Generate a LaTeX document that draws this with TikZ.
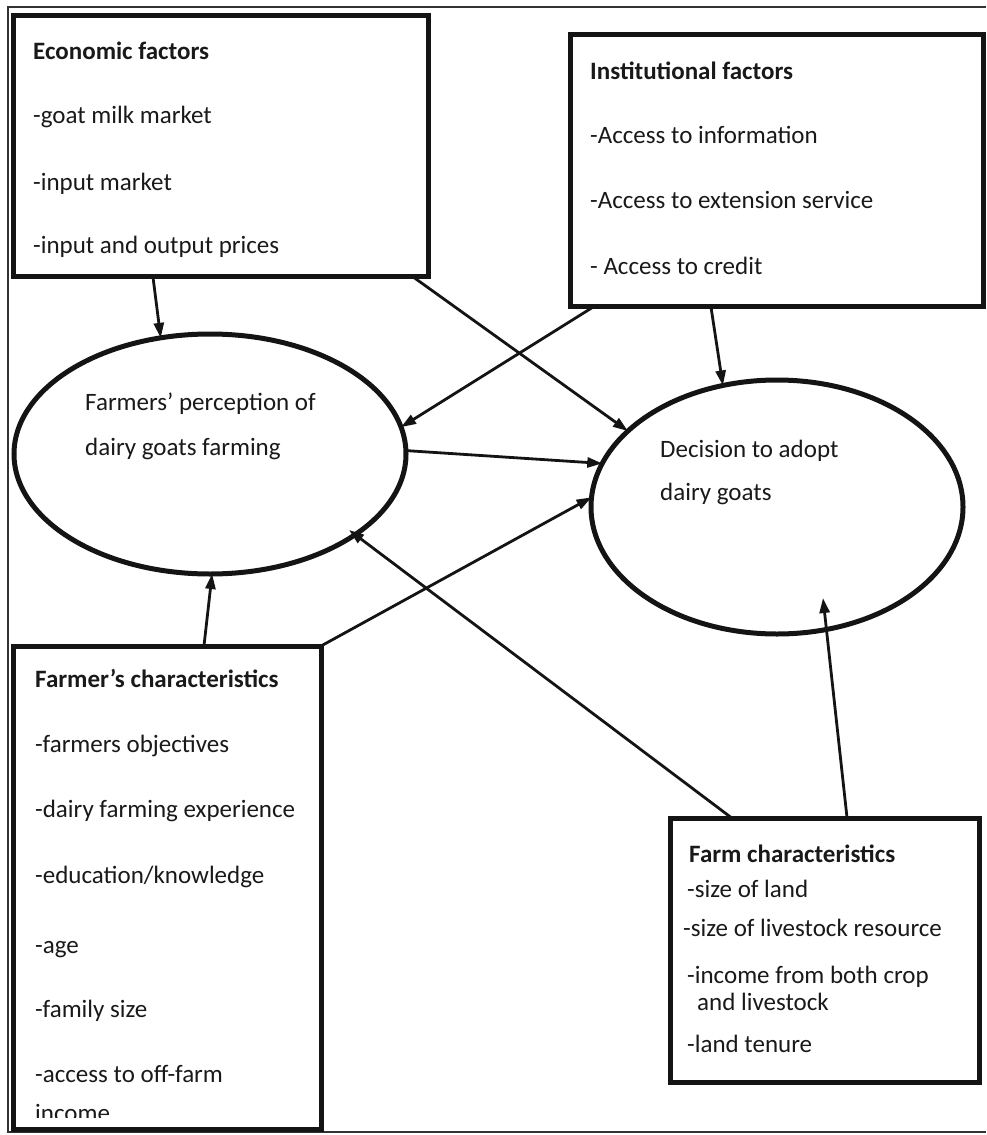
\documentclass[tikz,border=0pt]{standalone}
\usepackage{fontspec}
\setmainfont{Carlito}
\usetikzlibrary{arrows.meta,shapes.geometric,calc}
\begin{document}
\begin{tikzpicture}[x=1pt,y=-1pt,
  box/.style={draw=black!92,line width=5pt,rectangle,inner sep=0pt,outer sep=0pt},
  oval/.style={draw=black!92,line width=5pt,ellipse,inner sep=0pt,outer sep=0pt},
  txt/.style={anchor=base west,inner sep=0pt,font=\fontsize{25}{30}\selectfont,text=black!90},
  ttl/.style={txt,font=\fontsize{25}{30}\selectfont\bfseries},
  arr/.style={draw=black!92,line width=2.8pt,-{Triangle[length=15pt,width=10pt]}},
  frame/.style={draw=black!80,line width=2pt}]
\useasboundingbox (0,0) rectangle (986,1135);
% outer frame
\draw[frame] (986,7) -- (8,7) -- (8,1132) -- (986,1132);
% boxes
\node[box,minimum width=415pt,minimum height=261pt] (econ) at (220.5,145.5) {};
\node[box,minimum width=413pt,minimum height=272pt] (inst) at (776.5,170) {};
\node[box,minimum width=308pt,minimum height=483pt] (farmer) at (167,887.5) {};
\node[box,minimum width=309pt,minimum height=264pt] (farm) at (824.5,950) {};
% ellipses
\node[oval,minimum width=392pt,minimum height=240pt] (perc) at (210,454) {};
\node[oval,minimum width=372pt,minimum height=254pt] (dec) at (777,507) {};
% economic texts
\node[ttl] (et) at (33,59) {Economic factors};
\node[txt] (e1) at (33,123) {-goat milk market};
\node[txt] (e2) at (33,190) {-input market};
\node[txt] (e3) at (33,253) {-input and output prices};
% institutional texts
\node[ttl] (it) at (590,79) {Institutional factors};
\node[txt] (i1) at (590,143) {-Access to information};
\node[txt] (i2) at (590,208) {-Access to extension service};
\node[txt] (i3) at (590,274) {- Access to credit};
% ellipse texts
\node[txt] (p1) at (85,410) {Farmers' perception of};
\node[txt] (p2) at (85,455) {dairy goats farming};
\node[txt] (d1) at (660,457) {Decision to adopt};
\node[txt] (d2) at (660,500) {dairy goats};
% farmer texts
\begin{scope}
\clip (13,640) rectangle (322,1117);
\node[ttl] (ft) at (35,687) {Farmer's characteristics};
\node[txt] (f1) at (35,752) {-farmers objectives};
\node[txt] (f2) at (35,817) {-dairy farming experience};
\node[txt] (f3) at (35,883) {-education/knowledge};
\node[txt] (f4) at (35,953) {-age};
\node[txt] (f5) at (35,1017) {-family size};
\node[txt] (f6) at (35,1082) {-access to off-farm};
\node[txt] (f7) at (35,1121) {income};
\end{scope}
% farm texts
\node[ttl] (mt) at (689,862) {Farm characteristics};
\node[txt] (m1) at (687,897) {-size of land};
\node[txt] (m2) at (683,936) {-size of livestock resource};
\node[txt] (m3) at (687,983) {-income from both crop};
\node[txt] (m4) at (697,1010) {and livestock};
\node[txt] (m5) at (687,1052) {-land tenure};
% connectors
\draw[arr] ($(econ.south west)!0.337!(econ.south east)$) -- (perc.113);
\draw[arr] ($(econ.south west)!0.961!(econ.south east)$) -- (dec.153);
\draw[arr] ($(inst.south west)!0.06!(inst.south east)$) -- (perc.8);
\draw[arr] ($(inst.south west)!0.341!(inst.south east)$) -- (dec.114);
\draw[arr] (perc.1) -- (dec.166);
\draw[arr] (farmer.north east) -- (dec.177);
\draw[arr] ($(farmer.north west)!0.62!(farmer.north east)$) -- (perc.-89);
\draw[arr] ($(farm.north west)!0.2!(farm.north east)$) -- ($(perc.center)+(139,76)$);
\draw[arr] ($(farm.north west)!0.573!(farm.north east)$) -- ($(dec.center)+(46,91)$);
\end{tikzpicture}
\end{document}
